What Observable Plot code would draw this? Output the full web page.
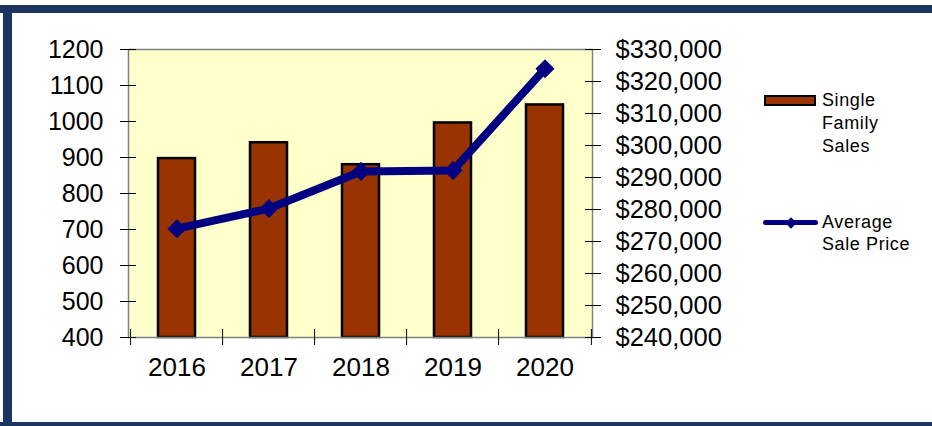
<!DOCTYPE html>
<html>
<head>
<meta charset="utf-8">
<script src="https://cdn.jsdelivr.net/npm/d3@7"></script>
<script src="https://cdn.jsdelivr.net/npm/@observablehq/plot@0.6"></script>
<style>
  html, body { margin: 0; padding: 0; background: #fff; }
  #wrap { position: relative; width: 932px; height: 426px; overflow: hidden; background: #fff;
          font-family: "Liberation Sans", Arial, sans-serif; }
  .band { position: absolute; background: #1d3661; }
  #chart { position: absolute; left: 0; top: 0; }
  .leg { position: absolute; font-size: 18px; line-height: 23px; color: #000; letter-spacing: 0.6px; }
</style>
</head>
<body>
<div id="wrap">
  <div class="band" style="left:0;top:5px;width:932px;height:8px"></div>
  <div class="band" style="left:3px;top:5px;width:9px;height:421px"></div>
  <div class="band" style="left:0;top:422px;width:932px;height:4px"></div>
  <div id="chart"></div>
  <div style="position:absolute;left:764px;top:95px;width:52px;height:11px;box-sizing:border-box;background:#993300;border:2px solid #000"></div>
  <div class="leg" style="left:822px;top:89px">Single<br>Family<br>Sales</div>
  <div style="position:absolute;left:763px;top:220px;width:55px;height:5px;background:#000080;border-radius:3px"></div>
  <div style="position:absolute;left:787px;top:218.5px;width:8px;height:8px;background:#000080;transform:rotate(45deg)"></div>
  <div class="leg" style="left:822px;top:211px;line-height:22px">Average<br>Sale Price</div>
</div>
<script>
const years = ["2016", "2017", "2018", "2019", "2020"];
const sales = [897, 941, 880, 996, 1046];
const prices = [274000, 280300, 291900, 292200, 324000];
const salesTicks = [400, 500, 600, 700, 800, 900, 1000, 1100, 1200];
const priceTicks = [240000, 250000, 260000, 270000, 280000, 290000, 300000, 310000, 320000, 330000];

// map price axis onto the sales axis (dual axis)
const pMin = 240000, pMax = 330000, sMin = 400, sMax = 1200;
const toY = p => sMin + (p - pMin) / (pMax - pMin) * (sMax - sMin);
const fromY = y => pMin + (y - sMin) / (sMax - sMin) * (pMax - pMin);

const data = years.map((year, i) => ({year, sales: sales[i], price: prices[i]}));
const fmt = d3.format(",");
const halfStep = 464 / 5 / 2;

const chart = Plot.plot({
  width: 932,
  height: 426,
  marginLeft: 128,
  marginRight: 340,
  marginTop: 49,
  marginBottom: 89,
  style: {fontFamily: "'Liberation Sans', Arial, sans-serif", background: "transparent", color: "#000"},
  x: {domain: years, paddingInner: 0.6, paddingOuter: 0.3, axis: null},
  y: {domain: [sMin, sMax], axis: null},
  marks: [
    Plot.frame({fill: "#ffffcc", stroke: null}),
    Plot.barY(data, {x: "year", y1: () => sMin, y2: "sales", fill: "#993300", stroke: "#000", strokeWidth: 2.5}),
    Plot.frame({stroke: "#808080", strokeWidth: 1.5}),
    // left axis
    Plot.axisY(salesTicks, {anchor: "left", tickSize: 16, dx: 8, tickFormat: () => "", label: null, stroke: "#000"}),
    Plot.axisY(salesTicks, {anchor: "left", tickSize: 0, tickPadding: 25, label: null, fontSize: 25, tickFormat: d => String(d)}),
    // right axis
    Plot.axisY(priceTicks.map(toY), {anchor: "right", tickSize: 16, dx: -8, tickFormat: () => "", label: null, stroke: "#000"}),
    Plot.axisY(priceTicks.map(toY), {anchor: "right", tickSize: 0, tickPadding: 23, label: null, fontSize: 25.5,
      tickFormat: d => "$" + fmt(Math.round(fromY(d)))}),
    // bottom axis: ticks at band boundaries
    Plot.axisX(years, {anchor: "bottom", tickSize: 16, dy: -8, dx: -halfStep, tickFormat: () => "", label: null, stroke: "#000"}),
    Plot.axisX(years.slice(-1), {anchor: "bottom", tickSize: 16, dy: -8, dx: halfStep, tickFormat: () => "", label: null, stroke: "#000"}),
    Plot.axisX(years, {anchor: "bottom", tickSize: 0, tickPadding: 20, label: null, fontSize: 26}),
    // price line
    Plot.line(data, {x: "year", y: d => toY(d.price), stroke: "#000080", strokeWidth: 8}),
    Plot.dot(data, {x: "year", y: d => toY(d.price), symbol: "diamond2", r: 8.6, fill: "#000080", stroke: null})
  ]
});
document.getElementById("chart").appendChild(chart);
</script>
</body>
</html>
